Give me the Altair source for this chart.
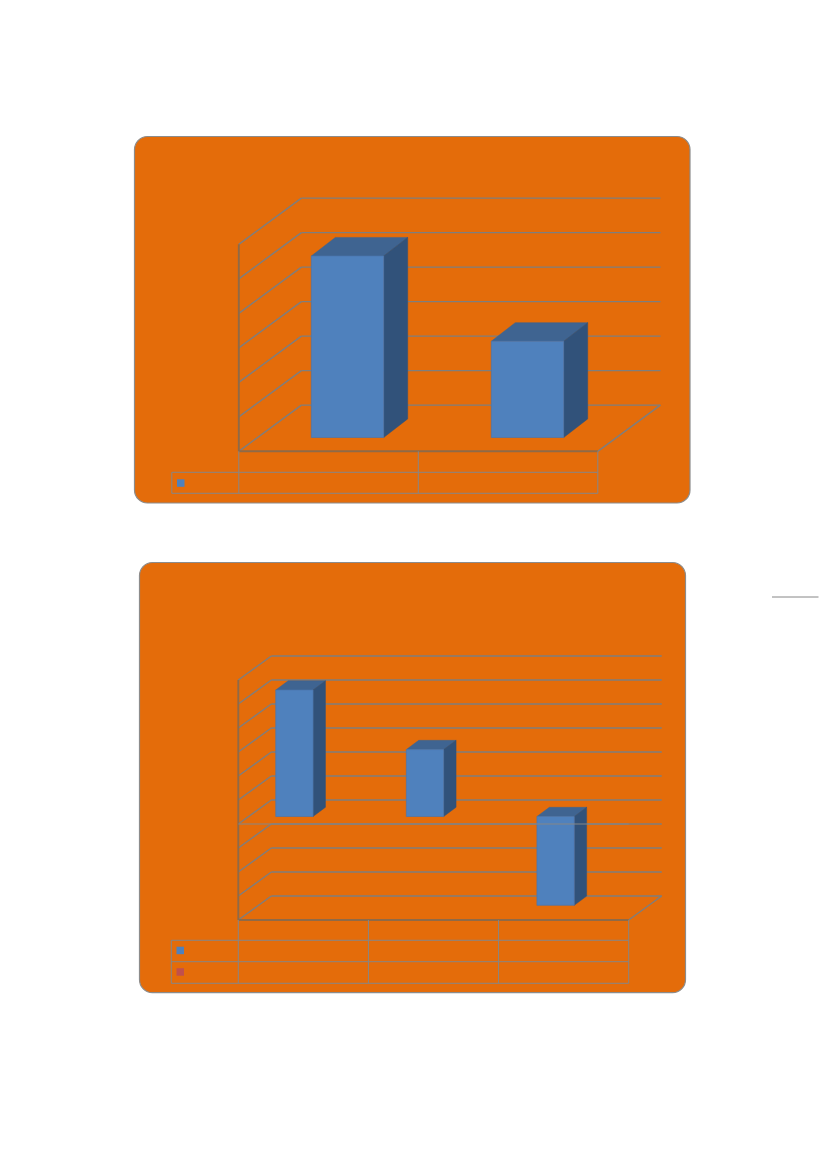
import altair as alt

# ---- values ----
chart1_categories = ["A", "B"]
chart1_values = [5.26, 2.79]
chart1_ticks = [0, 1, 2, 3, 4, 5, 6]

chart2_categories = ["A", "B", "C"]
chart2_values = [5.27, 2.79, -3.70]
chart2_ticks = [-4, -3, -2, -1, 0, 1, 2, 3, 4, 5, 6]

# ---- layout of the two 3-D panels (page pixels) ----
P1 = dict(name="p1", box=(134.5, 136.5, 690, 503), left=238.8, right=597.8, floor=451.3, ddx=62.6, ddy=46.2,
          vmin=0, unit=34.5, zero=437.5, bw=72.4, first=347.5, barstep=180.0, bdx=24, bdy=18.6,
          table=[472.3, 493.3], tleft=171.8, swatch=[(177, 479.3, "#4F81BD")], swh=7.5)
P2 = dict(name="p2", box=(139.5, 562.5, 685.5, 992.7), left=238.3, right=628.7, floor=920.0, ddx=33, ddy=24,
          vmin=-4, unit=24.0, zero=816.5, bw=37.3, first=294.4, barstep=130.6, bdx=12.4, bdy=9.2,
          table=[940.3, 961.7, 983.3], tleft=171.3,
          swatch=[(176.5, 946.7, "#4F81BD"), (176.5, 968.2, "#C0504D")], swh=7.5)

LINE = "#7E7E7E"
WALL = "#8E6A48"
FRONT, TOP, SIDE = "#4F81BD", "#3F6491", "#31527A"

rules, slants, walls, rects_front, tops, sides, over, panels, swatches = [], [], [], [], [], [], [], [], []


def seg(store, x, y, x2, y2):
    store.append(dict(x=x, x2=x2, y=y, y2=y2))


def build(p, cats, vals, ticks):
    x0, y0, x1, y1 = p["box"]
    panels.append(dict(x=x0, x2=x1, y=y0, y2=y1))
    L, R, F, dx, dy = p["left"], p["right"], p["floor"], p["ddx"], p["ddy"]
    # walls: gridlines on the side and the back
    for t in ticks:
        yb = F - dy - (t - p["vmin"]) * p["unit"]
        seg(slants, L, yb + dy, L + dx, yb)
        seg(rules, L + dx, yb, R + dx, yb)
    top_front = F - (ticks[-1] - p["vmin"]) * p["unit"]
    seg(walls, L, top_front, L, F)
    seg(walls, L, F, R, F)
    seg(slants, R, F, R + dx, F - dy)
    # bars
    step = (R - L) / len(cats)
    for i, v in enumerate(vals):
        xa = p["first"] + p["barstep"] * i - p["bw"] / 2
        xb = xa + p["bw"]
        ya = p["zero"] - v * p["unit"]
        yb = p["zero"]
        hi, lo = min(ya, yb), max(ya, yb)
        rects_front.append(dict(x=xa, x2=xb, y=hi, y2=lo))
        g = f"{p['name']}-{i}"
        tops.extend([dict(g=g, y=hi, x=xa, x2=xb),
                     dict(g=g, y=hi - p["bdy"], x=xa + p["bdx"], x2=xb + p["bdx"])])
        sides.extend([dict(g=g, x=xb, y=hi, y2=lo),
                      dict(g=g, x=xb + p["bdx"], y=hi - p["bdy"], y2=lo - p["bdy"])])
    # zero axis in front of the bars when the axis has negative values
    if p["vmin"] < 0:
        yz = F + p["vmin"] * p["unit"]
        seg(over, L, yz, R, yz)
    # data table below the floor
    bottom = p["table"][-1]
    for i in range(len(cats) + 1):
        seg(over, L + step * i, F, L + step * i, bottom)
    for y in p["table"]:
        seg(over, p["tleft"], y, R, y)
    seg(over, p["tleft"], p["table"][0], p["tleft"], bottom)
    for sx_, sy_, col in p["swatch"]:
        swatches.append(dict(x=sx_, x2=sx_ + p["swh"], y=sy_, y2=sy_ + p["swh"], c=col))


build(P1, chart1_categories, chart1_values, chart1_ticks)
build(P2, chart2_categories, chart2_values, chart2_ticks)
seg(over, 772, 597, 818.5, 597)

W, H = 811, 1140
sx = alt.Scale(domain=[8, 8 + W], range=[0, W])
sy = alt.Scale(domain=[8, 8 + H], range=[0, H])
X = alt.X("x:Q", scale=sx, axis=None)
Y = alt.Y("y:Q", scale=sy, axis=None)
X2, Y2 = alt.X2("x2:Q"), alt.Y2("y2:Q")


def df(rows):
    return alt.Data(values=rows)


bg = alt.Chart(df(panels)).mark_rect(cornerRadius=13, fill="#E46C0A", stroke="#8C8C8C", strokeWidth=1.2).encode(x=X, x2=X2, y=Y, y2=Y2)
grid = alt.Chart(df(rules)).mark_rule(color=LINE, strokeWidth=1.3).encode(x=X, x2=X2, y=Y, y2=Y2)
slant = alt.Chart(df(slants)).mark_rule(color=LINE, strokeWidth=1.5).encode(x=X, x2=X2, y=Y, y2=Y2)
wall = alt.Chart(df(walls)).mark_rule(color=WALL, strokeWidth=1.9).encode(x=X, x2=X2, y=Y, y2=Y2)
top_f = alt.Chart(df(tops)).mark_area(orient="horizontal", fill=TOP, stroke=TOP, strokeWidth=0.5).encode(
    y=Y, x=X, x2=X2, detail="g:N")
side_f = alt.Chart(df(sides)).mark_area(orient="vertical", fill=SIDE, stroke=SIDE, strokeWidth=0.5).encode(
    x=X, y=Y, y2=Y2, detail="g:N")
front = alt.Chart(df(rects_front)).mark_rect(fill=FRONT, stroke="#4A76AD", strokeWidth=0.7).encode(x=X, x2=X2, y=Y, y2=Y2)
table = alt.Chart(df(over)).mark_rule(color="#868686", strokeWidth=1).encode(x=X, x2=X2, y=Y, y2=Y2)
sw = alt.Chart(df(swatches)).mark_rect().encode(
    x=X, x2=X2, y=Y, y2=Y2, fill=alt.Fill("c:N", scale=None))

chart = (
    alt.layer(bg, grid, slant, wall, top_f, side_f, front, table, sw)
    .properties(width=W, height=H, padding=0, background="white")
    .configure_view(stroke=None)
)
chart.save("out.html", embed_options={"renderer": "svg", "actions": False})
